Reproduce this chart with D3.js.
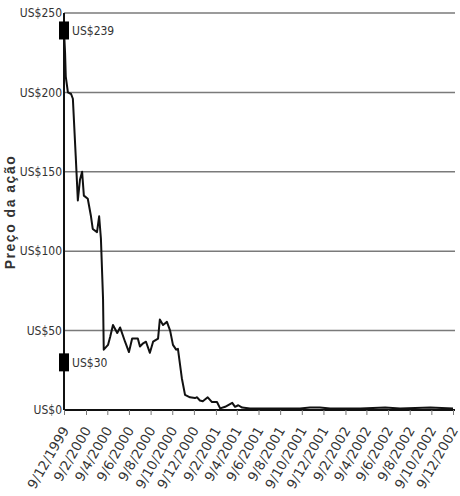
<!DOCTYPE html>
<html>
<head>
<meta charset="utf-8">
<script src="https://cdn.jsdelivr.net/npm/d3@7"></script>
<style>
  body { margin: 0; background: #fff; }
  text { font-family: "DejaVu Sans", sans-serif; font-stretch: condensed; fill: #333; }
</style>
</head>
<body>
<script>
// price series (dd/mm/yyyy, US$)
const dates = [
  "09/12/1999", "12/12/1999", "14/12/1999", "20/12/1999", "29/12/1999",
  "03/01/2000", "11/01/2000", "17/01/2000", "23/01/2000", "29/01/2000",
  "03/02/2000", "14/02/2000", "23/02/2000", "28/02/2000", "11/03/2000",
  "17/03/2000", "22/03/2000", "28/03/2000", "30/03/2000", "11/04/2000",
  "17/04/2000", "25/04/2000", "07/05/2000", "15/05/2000", "29/05/2000",
  "09/06/2000", "18/06/2000", "04/07/2000", "10/07/2000", "19/07/2000",
  "27/07/2000", "07/08/2000", "16/08/2000", "30/08/2000", "04/09/2000",
  "13/09/2000", "24/09/2000", "03/10/2000", "11/10/2000", "20/10/2000",
  "25/10/2000", "05/11/2000", "14/11/2000", "28/11/2000", "12/12/2000",
  "18/12/2000", "26/12/2000", "03/01/2001", "17/01/2001", "29/01/2001",
  "12/02/2001", "21/02/2001", "07/03/2001", "27/03/2001", "04/04/2001",
  "13/04/2001", "24/04/2001", "16/05/2001", "11/07/2001", "04/10/2001",
  "01/11/2001", "29/11/2001", "28/12/2001", "23/03/2002", "01/06/2002",
  "13/07/2002", "06/10/2002", "09/12/2002"
];
const prices = [
  239, 225, 210, 200, 199,
  196, 160, 132, 145, 150,
  135, 133, 122, 114, 112,
  122, 108, 70, 38, 41,
  46, 53.5, 48.5, 52, 43,
  36.5, 45, 45, 40, 42,
  43, 36, 43, 45, 57,
  53.5, 55.5, 50, 41, 38,
  38.5, 20, 9.5, 8, 7.5,
  8, 6, 5.5, 8, 5,
  5, 1, 2, 4.5, 2,
  3, 1.5, 1, 1, 1,
  1.5, 1.5, 1, 1, 1.5,
  1, 1.5, 1
];

const tickLabels = [
  "9/12/1999", "9/2/2000", "9/4/2000", "9/6/2000", "9/8/2000", "9/10/2000",
  "9/12/2000", "9/2/2001", "9/4/2001", "9/6/2001", "9/8/2001", "9/10/2001",
  "9/12/2001", "9/2/2002", "9/4/2002", "9/6/2002", "9/8/2002", "9/10/2002",
  "9/12/2002"
];
const yTicks = [0, 50, 100, 150, 200, 250];

const markLabels = ["US$239", "US$30"];
const markValues = [239, 30];

const W = 460, H = 496;
const margin = { top: 13, right: 7, bottom: 86, left: 64 };

const parse = d3.timeParse("%d/%m/%Y");
const data = dates.map((d, i) => ({ date: parse(d), price: prices[i] }));
const tickDates = tickLabels.map(d => parse(d));

const svg = d3.select("body").append("svg")
  .attr("width", W)
  .attr("height", H);

const x = d3.scaleTime()
  .domain([tickDates[0], tickDates[tickDates.length - 1]])
  .range([margin.left, W - margin.right]);
const y = d3.scaleLinear()
  .domain([0, 250])
  .range([H - margin.bottom, margin.top]);

// horizontal grid
svg.append("g")
  .selectAll("line")
  .data(yTicks.filter(d => d > 0))
  .join("line")
  .attr("x1", margin.left)
  .attr("x2", W - margin.right + 2)
  .attr("y1", d => y(d))
  .attr("y2", d => y(d))
  .attr("stroke", "#7a7a7a")
  .attr("stroke-width", 1.5);

// y axis labels
svg.append("g")
  .selectAll("text")
  .data(yTicks)
  .join("text")
  .attr("x", margin.left - 2)
  .attr("y", d => y(d))
  .attr("dy", "0.35em")
  .attr("text-anchor", "end")
  .style("font-size", "12px")
  .text(d => "US$" + d);

// x axis
const xAxis = svg.append("g")
  .attr("transform", "translate(0," + y(0) + ")")
  .call(d3.axisBottom(x).tickValues(tickDates).tickSize(5).tickFormat((d, i) => tickLabels[i]));
xAxis.select(".domain").attr("stroke", "#111").attr("stroke-width", 2).attr("d", "M" + margin.left + ",0H" + (W - margin.right + 2));
xAxis.selectAll(".tick line").attr("stroke", "#777");
xAxis.selectAll(".tick text")
  .attr("text-anchor", "end")
  .attr("dx", 0)
  .attr("dy", 0)
  .attr("x", 0)
  .attr("y", 0)
  .attr("transform", "translate(5,20) rotate(-60)")
  .style("font-family", "'DejaVu Sans', sans-serif")
  .style("font-stretch", "normal")
  .style("font-size", "13.5px")
  .style("fill", "#333");

// y axis line
svg.append("line")
  .attr("x1", margin.left).attr("x2", margin.left)
  .attr("y1", y(250)).attr("y2", y(0))
  .attr("stroke", "#111")
  .attr("stroke-width", 2);

// price line
const line = d3.line()
  .x(d => x(d.date))
  .y(d => y(d.price));
svg.append("path")
  .datum(data)
  .attr("d", line)
  .attr("fill", "none")
  .attr("stroke", "#111")
  .attr("stroke-width", 2)
  .attr("stroke-linejoin", "round");

// markers on the axis
const marks = svg.append("g")
  .selectAll("g")
  .data(markValues)
  .join("g")
  .attr("transform", d => "translate(" + margin.left + "," + y(d) + ")");
marks.append("rect")
  .attr("x", -5).attr("y", -9)
  .attr("width", 10).attr("height", 18)
  .attr("fill", "#000");
marks.append("text")
  .attr("x", 8)
  .attr("dy", "0.35em")
  .style("font-size", "12px")
  .text((d, i) => markLabels[i]);

// y title
svg.append("text")
  .attr("transform", "translate(15," + 212 + ") rotate(-90)")
  .attr("text-anchor", "middle")
  .style("font-family", "'Liberation Sans', sans-serif")
  .style("font-stretch", "normal")
  .style("font-weight", "bold")
  .style("font-size", "14px")
  .style("letter-spacing", "1.5px")
  .text("Preço da ação");
</script>
</body>
</html>
